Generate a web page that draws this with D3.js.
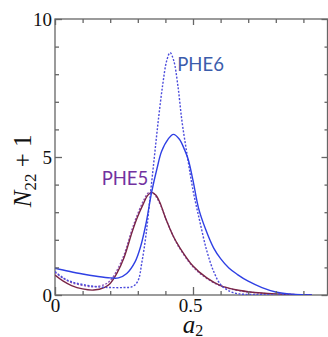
<!DOCTYPE html>
<html>
<head>
<meta charset="utf-8">
<script src="https://cdn.jsdelivr.net/npm/d3@7"></script>
<style>
  body { margin: 0; background: #fff; }
  .axis path, .axis line { stroke: #666; stroke-width: 1.3; }
  .axis text { font-family: "Liberation Serif", "DejaVu Serif", serif; font-size: 19px; fill: #111; }
</style>
</head>
<body>
<div id="chart"></div>
<script>
// PHE6, solid
var phe6SolidX = [0, 0.05, 0.1, 0.15, 0.2, 0.23, 0.26, 0.29, 0.31, 0.33, 0.35, 0.37, 0.386, 0.41, 0.429, 0.45, 0.47, 0.483, 0.5, 0.52, 0.545, 0.575, 0.6, 0.63, 0.66, 0.7, 0.75, 0.8, 0.85, 0.9, 0.93];
var phe6SolidY = [0.97, 0.86, 0.76, 0.68, 0.62, 0.62, 0.78, 1.2, 1.75, 2.6, 3.72, 4.6, 5.2, 5.65, 5.82, 5.65, 5.25, 4.9, 4.15, 3.15, 2.4, 1.7, 1.32, 0.98, 0.75, 0.5, 0.27, 0.11, 0.04, 0.01, 0.0];

// PHE6, dotted
var phe6DotX = [0, 0.03, 0.06, 0.1, 0.15, 0.2, 0.25, 0.28, 0.30, 0.315, 0.33, 0.345, 0.36, 0.374, 0.39, 0.405, 0.417, 0.43, 0.445, 0.46, 0.48, 0.50, 0.525, 0.55, 0.575, 0.6, 0.63, 0.66, 0.7, 0.75, 0.85, 0.93];
var phe6DotY = [0.85, 0.62, 0.48, 0.38, 0.3, 0.27, 0.27, 0.3, 0.5, 1.2, 2.2, 3.6, 5.0, 6.3, 7.6, 8.5, 8.78, 8.5, 7.6, 6.3, 5.0, 3.8, 2.65, 1.6, 0.85, 0.38, 0.15, 0.05, 0.02, 0.01, 0.0, 0.0];

// PHE5, solid
var phe5SolidX = [0, 0.03, 0.06, 0.1, 0.14, 0.18, 0.2, 0.225, 0.25, 0.28, 0.3, 0.32, 0.335, 0.35, 0.365, 0.38, 0.4, 0.43, 0.45, 0.5, 0.55, 0.6, 0.65, 0.7, 0.75, 0.8, 0.85, 0.9, 0.93];
var phe5SolidY = [0.72, 0.5, 0.34, 0.22, 0.18, 0.28, 0.42, 0.8, 1.35, 2.3, 2.85, 3.3, 3.6, 3.72, 3.62, 3.35, 2.8, 2.1, 1.75, 1.05, 0.62, 0.34, 0.2, 0.12, 0.07, 0.04, 0.02, 0.01, 0.0];

// PHE5, dotted
var phe5DotX = [0, 0.03, 0.06, 0.1, 0.14, 0.18, 0.2, 0.225, 0.25, 0.28, 0.3, 0.32, 0.34, 0.355, 0.37, 0.385, 0.4, 0.43, 0.45, 0.5, 0.55, 0.6, 0.65, 0.7, 0.75, 0.8, 0.85, 0.93];
var phe5DotY = [0.82, 0.6, 0.45, 0.35, 0.3, 0.38, 0.52, 0.9, 1.45, 2.4, 2.95, 3.4, 3.72, 3.7, 3.5, 3.2, 2.8, 2.1, 1.72, 1.02, 0.6, 0.33, 0.19, 0.11, 0.06, 0.03, 0.02, 0.0];

var yMajor = [0, 5, 10];
var yMinor = [1, 2, 3, 4, 6, 7, 8, 9];
var xMajor = [0, 0.5];
var xMinor = [0.1, 0.2, 0.3, 0.4, 0.6, 0.7, 0.8, 0.9];

var margin = { top: 19, right: 0.5, bottom: 42, left: 55 };
var width = 328 - margin.left - margin.right,
    height = 337 - margin.top - margin.bottom;

var svg = d3.select("#chart").append("svg")
    .attr("width", 328)
    .attr("height", 337)
    .append("g")
    .attr("transform", "translate(" + margin.left + "," + margin.top + ")");

svg.append("defs").append("clipPath")
    .attr("id", "clip")
    .append("rect")
    .attr("width", width)
    .attr("height", height);

// one unit of a2 is 276 px, the plot is cut just before a2 = 1
var x = d3.scaleLinear().domain([0, 1]).range([0, 276]);
var y = d3.scaleLinear().domain([0, 10]).range([height, 0]);

// frame
svg.append("rect")
    .attr("width", width)
    .attr("height", height)
    .attr("fill", "none")
    .attr("stroke", "#666")
    .attr("stroke-width", 1.3);

function zip(xs, ys) {
    return xs.map(function(d, i) { return { x: d, y: ys[i] }; });
}

var line = d3.line()
    .curve(d3.curveCatmullRom.alpha(0.5))
    .x(function(d) { return x(d.x); })
    .y(function(d) { return y(d.y); });

var series = [
    { data: zip(phe5DotX, phe5DotY), color: "#8a52b8", dash: "2,1.6" },
    { data: zip(phe5SolidX, phe5SolidY), color: "#7a2646", dash: null },
    { data: zip(phe6DotX, phe6DotY), color: "#4b4bdc", dash: "2,1.6" },
    { data: zip(phe6SolidX, phe6SolidY), color: "#2f40e4", dash: null }
];

svg.append("g")
    .attr("clip-path", "url(#clip)")
    .selectAll("path")
    .data(series)
    .enter().append("path")
    .attr("d", function(d) { return line(d.data); })
    .attr("fill", "none")
    .attr("stroke", function(d) { return d.color; })
    .attr("stroke-width", 1.4)
    .attr("stroke-dasharray", function(d) { return d.dash; });

// axes, ticks point inwards
svg.append("g").attr("class", "axis")
    .call(d3.axisLeft(y).tickValues(yMajor).tickSize(-7).tickPadding(3).tickFormat(d3.format("d")))
    .call(function(g) { g.select(".domain").remove(); });
svg.append("g").attr("class", "axis")
    .call(d3.axisLeft(y).tickValues(yMinor).tickSize(-4).tickFormat(""))
    .call(function(g) { g.select(".domain").remove(); });

svg.append("g").attr("class", "axis")
    .attr("transform", "translate(" + width + ",0)")
    .call(d3.axisRight(y).tickValues(yMajor).tickSize(-6).tickFormat(""))
    .call(function(g) { g.select(".domain").remove(); });
svg.append("g").attr("class", "axis")
    .attr("transform", "translate(" + width + ",0)")
    .call(d3.axisRight(y).tickValues(yMinor).tickSize(-3).tickFormat(""))
    .call(function(g) { g.select(".domain").remove(); });

var xAxisMajor = svg.append("g").attr("class", "axis")
    .attr("transform", "translate(0," + height + ")")
    .call(d3.axisBottom(x).tickValues(xMajor).tickSize(-8).tickPadding(4).tickFormat(d3.format("")))
    .call(function(g) { g.select(".domain").remove(); });
xAxisMajor.selectAll("text").attr("dx", function(d) { return d > 0 ? -3 : 0; });
svg.append("g").attr("class", "axis")
    .attr("transform", "translate(0," + height + ")")
    .call(d3.axisBottom(x).tickValues(xMinor).tickSize(-4).tickFormat(""))
    .call(function(g) { g.select(".domain").remove(); });

svg.append("g").attr("class", "axis")
    .call(d3.axisTop(x).tickValues(xMajor).tickSize(-6).tickFormat(""))
    .call(function(g) { g.select(".domain").remove(); });
svg.append("g").attr("class", "axis")
    .call(d3.axisTop(x).tickValues(xMinor).tickSize(-4).tickFormat(""))
    .call(function(g) { g.select(".domain").remove(); });

// axis titles
var yTitle = svg.append("text")
    .attr("transform", "translate(-24," + (y(4.5)) + ") rotate(-90)")
    .attr("text-anchor", "middle")
    .attr("font-family", "Liberation Serif, DejaVu Serif, serif")
    .attr("font-size", 25)
    .attr("fill", "#111");
yTitle.append("tspan").attr("font-style", "italic").text("N");
yTitle.append("tspan").attr("font-size", 17).attr("dy", 5).text("22");
yTitle.append("tspan").attr("dy", -5).text(" + 1");

var xTitle = svg.append("text")
    .attr("x", x(0.5))
    .attr("y", height + 38)
    .attr("text-anchor", "middle")
    .attr("font-family", "Liberation Serif, DejaVu Serif, serif")
    .attr("font-size", 25)
    .attr("fill", "#111");
xTitle.append("tspan").attr("font-style", "italic").text("a");
xTitle.append("tspan").attr("font-size", 16).attr("dy", 3).text("2");

// curve labels
svg.append("text")
    .attr("x", x(0.443))
    .attr("y", y(8.1))
    .attr("font-family", "Lato, Open Sans, sans-serif")
    .attr("font-size", 18.5)
    .attr("fill", "#3b5cab")
    .text("PHE6");

svg.append("text")
    .attr("x", x(0.169))
    .attr("y", y(4.0))
    .attr("font-family", "Lato, Open Sans, sans-serif")
    .attr("font-size", 18.5)
    .attr("fill", "#7232a0")
    .text("PHE5");
</script>
</body>
</html>
